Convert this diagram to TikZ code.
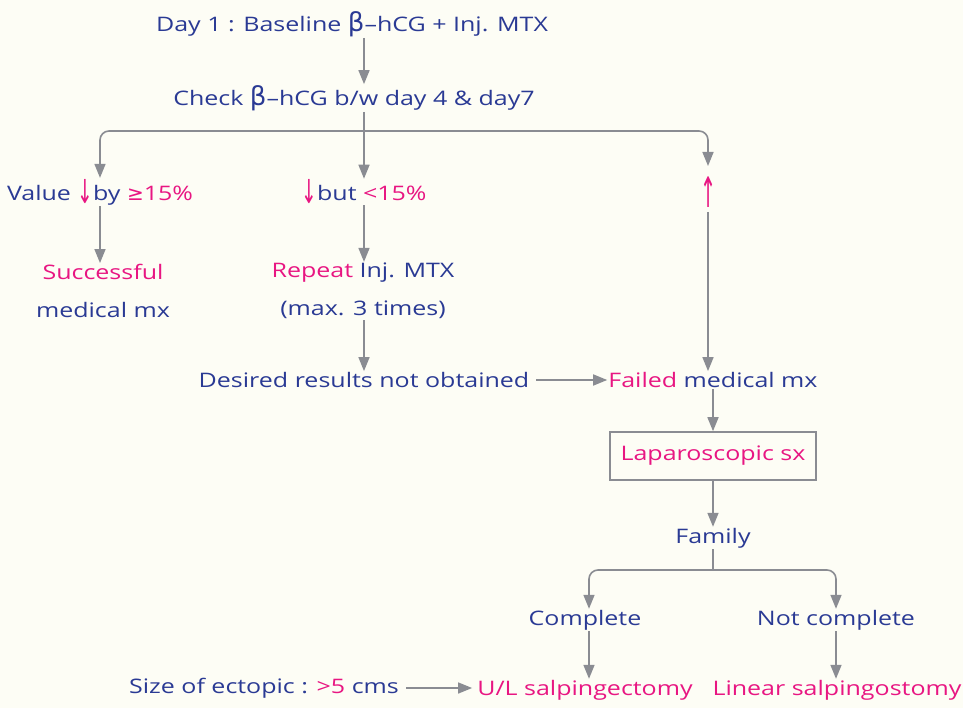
\documentclass[tikz,border=0pt]{standalone}
\usepackage{fontspec}
\usepackage{graphicx}
\setmainfont{Open Sans}[FakeStretch=1.25]
\newfontfamily\symf{DejaVu Sans}
\usetikzlibrary{arrows.meta}
\definecolor{bg}{RGB}{253,253,245}
\definecolor{tblue}{RGB}{42,58,148}
\definecolor{tpink}{RGB}{232,22,130}
\definecolor{lgray}{RGB}{138,140,146}
\newcommand{\pk}[1]{\textcolor{tpink}{#1}}
\newcommand{\bet}{{\fontsize{26}{26}\symf β}}
\newcommand{\dn}{\pk{\raisebox{-3pt}{\scalebox{0.85}[1.5]{\fontsize{22}{22}\symf ↓}}}}
\newcommand{\upa}{\scalebox{0.8}[1.75]{\fontsize{24}{24}\symf ↑}}
\begin{document}
\begin{tikzpicture}[x=1pt,y=-1pt,
  txt/.style={text=tblue,font=\fontsize{20}{24}\selectfont,inner sep=1pt,align=center},
  arr/.style={draw=lgray,line width=1.6pt,-{Triangle[width=11pt,length=14pt]}},
  ln/.style={draw=lgray,line width=1.6pt},
  boxst/.style={draw=lgray,line width=1.6pt,minimum width=206pt,minimum height=48pt}]
\fill[bg] (0,0) rectangle (963,708);
\useasboundingbox (0,0) rectangle (963,708);
\coordinate (c364) at (364,0);
\coordinate (c100) at (100,0);
\coordinate (c708) at (708,0);
\coordinate (c713) at (713,0);
\coordinate (c589) at (589,0);
\coordinate (c836) at (836,0);
\coordinate (split) at (364,131);
\coordinate (split2) at (713,570);
\coordinate (upin) at (708,166);
\coordinate (upout) at (708,212);

\node[txt] (n1) at (352,24) {Day 1 : Baseline \bet–hCG + Inj. MTX};
\node[txt] (n2) at (354,98) {Check \bet–hCG b/w day 4 \& day7};
\node[txt] (val) at (100,192) {Value \dn by \pk{{\symf ≥}15\%}};
\node[txt] (but) at (364,192) {\dn but \pk{<15\%}};
\node[txt,text=tpink,inner sep=0pt] (up) at (709,192) {\upa};
\node[txt] (succ) at (103,291) {\pk{Successful}\\[14pt]medical mx};
\node[txt] (rep) at (363,291) {\pk{Repeat} Inj. MTX\\[14pt](max. 3 times)};
\node[txt] (des) at (364,380) {Desired results not obtained};
\node[txt] (fail) at (713,380) {\pk{Failed} medical mx};
\node[txt,boxst,text=tpink] (lap) at (713,456) {Laparoscopic sx};
\node[txt] (fam) at (713,538) {Family};
\node[txt] (comp) at (585,620) {Complete};
\node[txt] (ncomp) at (836,620) {Not complete};
\node[txt,text=tpink] (ule) at (585,690) {U/L salpingectomy};
\node[txt,text=tpink] (lin) at (837,690) {Linear salpingostomy};
\node[txt] (size) at (264,688) {Size of ectopic : \pk{>5} cms};

\draw[arr] (n1.south -| c364) -- (n2.north -| c364);
\draw[ln] (n2.south -| c364) -- (split);
\draw[arr] (split) -- (but.north -| c364);
\draw[arr,rounded corners=9pt] (split) -| (val.north -| c100);
\draw[arr,rounded corners=9pt] (split) -| (upin);
\draw[arr] (val.south -| c100) -- (succ.north -| c100);
\draw[arr] (but.south -| c364) -- (rep.north -| c364);
\draw[arr] (rep.south -| c364) -- (des.north -| c364);
\draw[arr] (des.east) ++(6,0) -- (fail.west);
\draw[arr] (upout) -- (fail.north -| c708);
\draw[arr] (fail.south -| c713) -- (lap.north -| c713);
\draw[arr] (lap.south -| c713) -- (fam.north -| c713);
\draw[ln] (fam.south -| c713) -- (split2);
\draw[arr,rounded corners=9pt] (split2) -| (comp.north -| c589);
\draw[arr,rounded corners=9pt] (split2) -| (ncomp.north -| c836);
\draw[arr] (comp.south -| c589) -- (ule.north -| c589);
\draw[arr] (ncomp.south -| c836) -- (lin.north -| c836);
\draw[arr] (size.east) ++(6,0) -- ([xshift=-4pt]ule.west |- size.east);
\end{tikzpicture}
\end{document}
